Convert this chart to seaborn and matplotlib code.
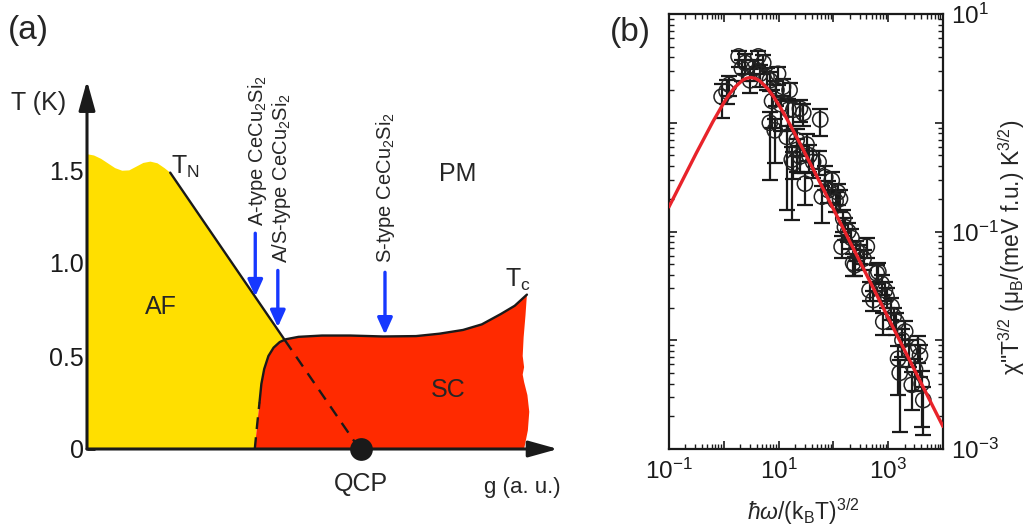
import numpy as np
import pandas as pd
import seaborn as sns
import matplotlib
matplotlib.use("Agg")
import matplotlib.pyplot as plt
from matplotlib.ticker import FixedLocator, LogLocator, NullFormatter

# ---------------- Panel (a): phase diagram data (g in a.u., T in K) ----------------
af_top_g = [0.0, 0.15, 0.30, 0.45, 0.60, 0.75, 0.90, 1.05, 1.20, 1.35, 1.50, 1.65, 1.77]
af_top_T = [1.585, 1.578, 1.56, 1.535, 1.51, 1.496, 1.498, 1.518, 1.538, 1.545, 1.536, 1.51, 1.486]
tn_line_g = [1.77, 4.21]
tn_line_T = [1.486, 0.585]
tn_dash_g = [4.21, 5.80]
tn_dash_T = [0.585, 0.0]
sc_edge_g = [3.57, 3.62, 3.67, 3.71, 3.77, 3.86, 3.97, 4.10, 4.23, 4.50, 5.0, 5.6,
             6.3, 7.0, 7.5, 8.0, 8.4, 8.8, 9.1, 9.36]
sc_edge_T = [0.0, 0.13, 0.25, 0.35, 0.43, 0.50, 0.545, 0.575, 0.59, 0.603, 0.61, 0.61,
             0.605, 0.607, 0.62, 0.64, 0.67, 0.725, 0.77, 0.83]
sc_right_g = [9.36, 9.33, 9.29, 9.27, 9.30, 9.27, 9.30, 9.37, 9.41, 9.38, 9.30]
sc_right_T = [0.83, 0.72, 0.60, 0.50, 0.44, 0.40, 0.36, 0.29, 0.20, 0.10, 0.0]
qcp_g = 5.82
T_ticks = [0, 0.5, 1.0, 1.5]
T_ticklabels = ["0", "0.5", "1.0", "1.5"]
arrow_g = [3.58, 4.06, 6.34]
arrow_T_from = [1.16, 0.96, 0.95]
arrow_T_to = [0.82, 0.655, 0.615]
sample_labels = ["A-type CeCu$_2$Si$_2$", "A/S-type CeCu$_2$Si$_2$", "S-type CeCu$_2$Si$_2$"]
sample_label_g = [3.62, 4.14, 6.36]
sample_label_T = [1.20, 1.00, 1.00]

# ---------------- Panel (b): scaling data (log10 of values) ------
fit_logx = [-1.0, -0.5, -0.2, 0.0, 0.1, 0.2, 0.35, 0.42, 0.49, 0.575, 0.65, 0.8, 0.9,
            1.0, 1.1, 1.2, 1.4, 1.7, 2.0, 2.5, 3.0, 3.5, 4.0]
fit_logy = [-0.773, -0.277, 0.009, 0.184, 0.260, 0.326, 0.394, 0.410, 0.416, 0.408,
            0.387, 0.314, 0.246, 0.167, 0.082, -0.009, -0.200, -0.495, -0.793,
            -1.293, -1.793, -2.293, -2.793]
data_logx = [-0.04, 0.05, 0.10, 0.27, 0.33, 0.39, 0.48, 0.55, 0.63, 0.66, 0.72, 0.78,
             0.84, 0.84, 0.88, 0.93, 0.96, 0.99, 1.04, 1.08, 1.15, 1.18, 1.20, 1.24,
             1.27, 1.27, 1.33, 1.33, 1.39, 1.39, 1.45, 1.48, 1.51, 1.56, 1.63, 1.73,
             1.76, 1.79, 1.85, 1.91, 1.97, 2.04, 2.08, 2.12, 2.15, 2.18, 2.21, 2.27,
             2.33, 2.36, 2.39, 2.42, 2.49, 2.55, 2.61, 2.66, 2.73, 2.79, 2.82, 2.88,
             2.91, 2.94, 2.97, 3.06, 3.10, 3.15, 3.18, 3.21, 3.26, 3.31, 3.38, 3.43,
             3.49, 3.55, 3.58, 3.61, 3.64]
data_logy = [0.24, 0.29, 0.35, 0.61, 0.50, 0.55, 0.39, 0.50, 0.61, 0.45, 0.55, 0.42,
             0.39, 0.00, 0.20, -0.07, 0.30, 0.45, 0.17, 0.33, -0.13, 0.12, 0.30, -0.34,
             0.12, -0.37, -0.16, -0.25, 0.13, -0.31, 0.09, -0.56, -0.20, -0.30, -0.36, -0.36,
             0.03, -0.68, -0.50, -0.62, -0.53, -0.72, -0.64, -0.70, -1.14, -0.88, -0.96, -1.00,
             -1.06, -1.29, -1.31, -1.17, -1.20, -1.25, -1.14, -1.54, -1.63, -1.385, -1.37, -1.48,
             -1.83, -1.54, -1.60, -1.69, -1.78, -1.83, -2.17, -2.30, -2.00, -1.92, -2.10, -2.41,
             -2.27, -2.06, -2.14, -2.40, -2.55]
data_err_dn = [0.20, 0.12, 0.10, 0.10, 0.12, 0.10, 0.12, 0.12, 0.10, 0.12, 0.10, 0.12,
               0.10, 0.53, 0.25, 0.30, 0.15, 0.10, 0.25, 0.12, 0.67, 0.20, 0.10, 0.55,
               0.15, 0.15, 0.15, 0.20, 0.12, 0.15, 0.12, 0.20, 0.15, 0.15, 0.15, 0.12,
               0.15, 0.24, 0.12, 0.12, 0.12, 0.10, 0.12, 0.12, 0.10, 0.12, 0.12, 0.10,
               0.10, 0.12, 0.10, 0.10, 0.10, 0.10, 0.10, 0.10, 0.10, 0.10, 0.10, 0.10,
               0.12, 0.10, 0.10, 0.12, 0.12, 0.12, 0.33, 0.54, 0.15, 0.12, 0.15, 0.23,
               0.20, 0.15, 0.20, 0.40, 0.32]
data_err_up = [0.12, 0.10, 0.08, 0.05, 0.08, 0.08, 0.10, 0.08, 0.05, 0.08, 0.07, 0.08,
               0.08, 0.10, 0.10, 0.10, 0.08, 0.06, 0.08, 0.07, 0.10, 0.10, 0.07, 0.12,
               0.08, 0.10, 0.10, 0.10, 0.08, 0.10, 0.08, 0.10, 0.10, 0.10, 0.10, 0.10,
               0.10, 0.10, 0.10, 0.08, 0.08, 0.08, 0.08, 0.08, 0.10, 0.08, 0.08, 0.08,
               0.08, 0.08, 0.08, 0.08, 0.08, 0.08, 0.08, 0.08, 0.08, 0.08, 0.08, 0.08,
               0.08, 0.08, 0.08, 0.08, 0.08, 0.08, 0.12, 0.12, 0.10, 0.10, 0.10, 0.12,
               0.10, 0.10, 0.10, 0.12, 0.12]
x_major = [1e-1, 1e0, 1e1, 1e2, 1e3, 1e4]
x_major_labels = ["$10^{-1}$", "", "$10^{1}$", "", "$10^{3}$", ""]
y_major = [1e-3, 1e-2, 1e-1, 1e0, 1e1]
y_major_labels = ["$10^{-3}$", "", "$10^{-1}$", "", "$10^{1}$"]

YELLOW = "#FFDF00"
RED = "#FF2A00"
BLUE = "#1638FF"
FIT_RED = "#E8232A"

sns.set_theme(style="ticks")
plt.rcParams["font.family"] = ["Liberation Sans", "DejaVu Sans"]
plt.rcParams["mathtext.fontset"] = "custom"
plt.rcParams["mathtext.rm"] = "Liberation Sans"
plt.rcParams["mathtext.it"] = "Liberation Sans:italic"
plt.rcParams["mathtext.bf"] = "Liberation Sans:bold"
plt.rcParams["mathtext.sf"] = "Liberation Sans"
plt.rcParams["mathtext.fallback"] = "stixsans"
plt.rcParams["axes.unicode_minus"] = False

W, H = 1028, 529
fig = plt.figure(figsize=(W / 100, H / 100), dpi=100)

# ============================ Panel (a) ============================
axA = fig.add_axes([0, 0, 560 / W, 1])
axA.set_xlim(-87 / 47, 473 / 47)
axA.set_ylim(-80 / 186, 449 / 186)
axA.patch.set_visible(False)
for s in axA.spines.values():
    s.set_visible(False)
axA.spines["left"].set_position(("data", 0))
axA.set_xticks([])
axA.set_yticks(T_ticks)
axA.set_yticklabels(T_ticklabels)
axA.tick_params(axis="y", direction="in", length=6, width=2, labelsize=18, pad=2, colors="k")

n_keep = 8
yellow_g = [0.0] + af_top_g + [tn_line_g[1]] + sc_edge_g[:n_keep][::-1]
yellow_T = [0.0] + af_top_T + [tn_line_T[1]] + sc_edge_T[:n_keep][::-1]
axA.fill(yellow_g, yellow_T, color=YELLOW, lw=0, zorder=1)
red_g = sc_edge_g + sc_right_g[1:]
red_T = sc_edge_T + sc_right_T[1:]
axA.fill(red_g, red_T, color=RED, lw=0, zorder=1.5)

sns.lineplot(x=tn_line_g, y=tn_line_T, ax=axA, color="k", lw=1.7, sort=False,
             estimator=None, zorder=3)
sns.lineplot(x=tn_dash_g, y=tn_dash_T, ax=axA, color="k", lw=1.7, sort=False,
             estimator=None, zorder=3, linestyle=(0, (5, 3.5)))
sns.lineplot(x=sc_edge_g[:3], y=sc_edge_T[:3], ax=axA, color="k", lw=1.7, sort=False,
             estimator=None, zorder=3, linestyle=(0, (5, 3.5)))
sns.lineplot(x=sc_edge_g[2:], y=sc_edge_T[2:], ax=axA, color="k", lw=1.7, sort=False,
             estimator=None, zorder=3)

# coordinate axes with arrow heads
axA.annotate("", xy=(0, 1.98), xytext=(0, 0),
             arrowprops=dict(arrowstyle="-|>,head_length=1.8,head_width=0.5",
                             mutation_scale=10, lw=2.2, color="k",
                             shrinkA=0, shrinkB=0), zorder=4)
axA.annotate("", xy=(10.02, 0), xytext=(0, 0),
             arrowprops=dict(arrowstyle="-|>,head_length=1.8,head_width=0.5",
                             mutation_scale=10, lw=2.2, color="k",
                             shrinkA=0, shrinkB=0), zorder=4)

sns.scatterplot(x=[qcp_g], y=[0.0], ax=axA, s=230, color="k", edgecolor="k",
                zorder=5, clip_on=False, legend=False)

for g, t0, t1 in zip(arrow_g, arrow_T_from, arrow_T_to):
    axA.annotate("", xy=(g, t1), xytext=(g, t0),
                 arrowprops=dict(arrowstyle="-|>,head_length=1.0,head_width=0.45",
                                 mutation_scale=10, lw=2.4, color=BLUE,
                                 shrinkA=0, shrinkB=0), zorder=4)
for lab, g, t in zip(sample_labels, sample_label_g, sample_label_T):
    axA.text(g, t, lab, rotation=90, ha="center", va="bottom", fontsize=14.5)

axA.text(-1.62, 1.824, "T (K)", ha="left", va="baseline", fontsize=18)
axA.text(1.79, 1.478, "T$_{\\rm N}$", ha="left", va="baseline", fontsize=18)
axA.text(8.89, 0.87, "T$_{\\rm c}$", ha="left", va="baseline", fontsize=18)
axA.text(7.89, 1.443, "PM", ha="center", va="baseline", fontsize=18)
axA.text(1.57, 0.726, "AF", ha="center", va="baseline", fontsize=18)
axA.text(7.68, 0.28, "SC", ha="center", va="baseline", fontsize=18)
axA.text(5.83, -0.226, "QCP", ha="center", va="baseline", fontsize=18)
axA.text(8.45, -0.237, "g (a. u.)", ha="left", va="baseline", fontsize=16)

# ============================ Panel (b) ============================
axB = fig.add_axes([669 / W, (H - 449) / H, 274 / W, 435 / H])
axB.set_xscale("log")
axB.set_yscale("log")

xd = 10 ** np.array(data_logx)
yd = 10 ** np.array(data_logy)
ylo = yd - 10 ** (np.array(data_logy) - np.array(data_err_dn))
yhi = 10 ** (np.array(data_logy) + np.array(data_err_up)) - yd
axB.errorbar(xd, yd, yerr=[ylo, yhi], fmt="none", ecolor="k", elinewidth=1.6,
             capsize=5.5, capthick=1.6, zorder=2)
sns.scatterplot(x=xd, y=yd, ax=axB, marker="o", s=120, facecolor="none",
                edgecolor="#222222", linewidth=1.1, zorder=3, legend=False)
fit_df = pd.DataFrame({"x": 10 ** np.array(fit_logx), "y": 10 ** np.array(fit_logy)})
sns.lineplot(data=fit_df, x="x", y="y", ax=axB, color=FIT_RED, lw=2.4, sort=False,
             estimator=None, zorder=4)

axB.set_xlim(1e-1, 1e4)
axB.set_ylim(1e-3, 1e1)
axB.xaxis.set_major_locator(FixedLocator(x_major))
axB.set_xticklabels(x_major_labels)
axB.yaxis.set_major_locator(FixedLocator(y_major))
axB.set_yticklabels(y_major_labels)
axB.xaxis.set_minor_locator(LogLocator(base=10, subs=np.arange(2, 10), numticks=20))
axB.yaxis.set_minor_locator(LogLocator(base=10, subs=np.arange(2, 10), numticks=20))
axB.xaxis.set_minor_formatter(NullFormatter())
axB.yaxis.set_minor_formatter(NullFormatter())
axB.tick_params(which="both", direction="in", top=True, bottom=True, left=True,
                right=True, labelleft=False, labelright=True, colors="k")
axB.tick_params(which="major", length=6, width=1.2, labelsize=17.5)
axB.tick_params(axis="x", which="major", pad=7)
axB.tick_params(axis="y", which="major", pad=6)
axB.tick_params(which="minor", length=3.5, width=1.0)
for s in axB.spines.values():
    s.set_linewidth(1.6)
    s.set_color("k")
axB.set_xlabel("")
axB.set_ylabel("")
axB.text(0.489, -0.145, "$\\hbar\\omega$/(k$_{\\rm B}$T)$^{3/2}$", transform=axB.transAxes,
         ha="center", va="center", fontsize=16.5)
axB.text(1.25, 0.465, "\u03c7\"T$^{3/2}$ (\u03bc$_{\\rm B}$/(meV f.u.) K$^{3/2}$)",
         transform=axB.transAxes, rotation=90, ha="center", va="center", fontsize=16.5)

fig.text(8 / W, 1 - 31 / H, "(a)", ha="left", va="center", fontsize=24)
fig.text(610 / W, 1 - 32 / H, "(b)", ha="left", va="center", fontsize=24)

fig.savefig("out.png", dpi=100)
